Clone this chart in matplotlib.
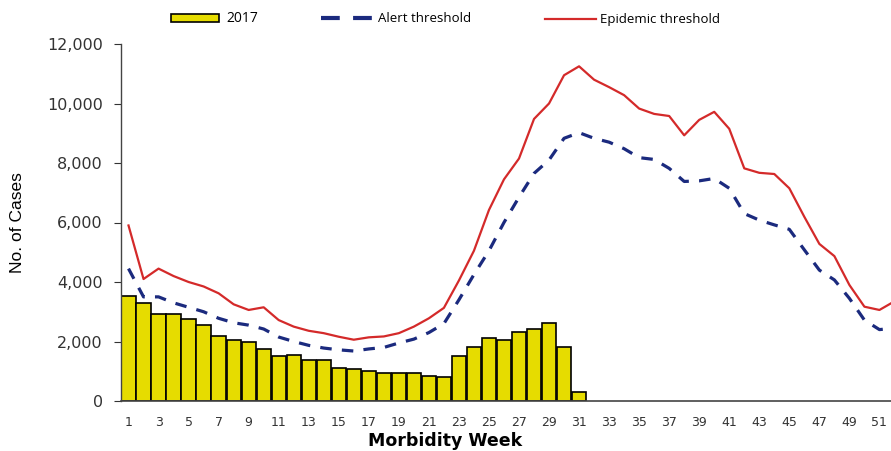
import matplotlib
matplotlib.use("Agg")
import matplotlib.pyplot as plt
from matplotlib.lines import Line2D
from matplotlib.patches import Rectangle

plt.rcParams["font.family"] = ["DejaVu Sans"]

weeks_2017 = list(range(1, 32))
cases_2017 = [3530, 3290, 2920, 2920, 2760, 2550, 2180, 2050, 1980, 1750,
              1510, 1550, 1380, 1380, 1110, 1090, 1020, 930, 930, 930,
              840, 810, 1510, 1830, 2110, 2060, 2310, 2430, 2620, 1830,
              310]

weeks = list(range(1, 53))
alert = [4450, 3500, 3500, 3300, 3150, 3000, 2780, 2630, 2550, 2420,
         2150, 2000, 1870, 1780, 1720, 1680, 1750, 1800, 1950, 2080,
         2300, 2600, 3400, 4250, 5050, 6000, 6850, 7650, 8100, 8830,
         9020, 8830, 8700, 8480, 8180, 8120, 7820, 7380, 7400, 7480,
         7150, 6300, 6080, 5920, 5770, 5080, 4400, 4070, 3450, 2720,
         2400, 2450]
epidemic = [5900, 4100, 4450, 4200, 4000, 3850, 3620, 3250, 3060, 3150,
            2720, 2500, 2360, 2280, 2160, 2060, 2140, 2170, 2280, 2500,
            2780, 3130, 4050, 5050, 6420, 7450, 8150, 9480, 10000, 10950,
            11250, 10800, 10550, 10280, 9830, 9650, 9580, 8930, 9450, 9720,
            9150, 7820, 7670, 7630, 7150, 6190, 5280, 4870, 3900, 3170,
            3060, 3350]

BAR_COLOR = "#e6dc00"
RED = "#d42a2a"
BLUE = "#1b2a7e"

fig = plt.figure(figsize=(8.91, 4.51), dpi=100)
ax = fig.add_axes([121 / 891, 50 / 451, 1 - 121 / 891, 357 / 451])

ax.bar(weeks_2017, cases_2017, width=0.95, color=BAR_COLOR,
       edgecolor="black", linewidth=1.2, zorder=2)
ax.plot(weeks, alert, color=BLUE, lw=2.3, dashes=(3.6, 3.2), zorder=3)
ax.plot(weeks, epidemic, color=RED, lw=1.6, zorder=4)

ax.set_xlim(0.5, 51.77)
ax.set_ylim(0, 12000)
ax.set_xticks(range(1, 52, 2))
ax.set_yticks(range(0, 12001, 2000))
ax.set_yticklabels([f"{v:,}" for v in range(0, 12001, 2000)])
ax.tick_params(axis="y", labelsize=11.5, length=5, width=0.8, pad=8,
               direction="out", colors="#333333")
ax.tick_params(axis="x", labelsize=9, length=0, pad=11, colors="#333333")

for s in ["top", "right"]:
    ax.spines[s].set_visible(False)
ax.spines["left"].set_linewidth(1.0)
ax.spines["bottom"].set_linewidth(1.2)
ax.spines["left"].set_color("#444444")
ax.spines["bottom"].set_color("#444444")

# x label sits centred on the page, not on the axes
ax.set_xlabel("Morbidity Week", fontsize=12.5, fontweight="bold")
ax.xaxis.set_label_coords((445 - 121) / 770, (401 - 432) / 357)
ax.set_ylabel("No. of Cases", fontsize=12.5, family="Liberation Sans",
              labelpad=16)

# legend along the top, drawn in figure pixels
def fx(px):
    return px / 891

def fy(py):
    return 1 - py / 451

fig.add_artist(Rectangle((fx(171), fy(22)), fx(48), 8 / 451,
                         facecolor=BAR_COLOR, edgecolor="black", lw=1.2,
                         transform=fig.transFigure))
fig.text(fx(226), fy(18), "2017", fontsize=10, va="center", family="Open Sans")
fig.add_artist(Line2D([fx(321), fx(372)], [fy(18), fy(18)], color=BLUE,
                      lw=3, dashes=(4.5, 3.2), transform=fig.transFigure))
fig.text(fx(378), fy(18), "Alert threshold", fontsize=9.5, va="center",
         family="Open Sans")
fig.add_artist(Line2D([fx(545), fx(596)], [fy(19), fy(19)], color=RED,
                      lw=1.6, transform=fig.transFigure))
fig.text(fx(600), fy(19), "Epidemic threshold", fontsize=9.5, va="center",
         family="Open Sans")

plt.savefig("out.png", dpi=100)
